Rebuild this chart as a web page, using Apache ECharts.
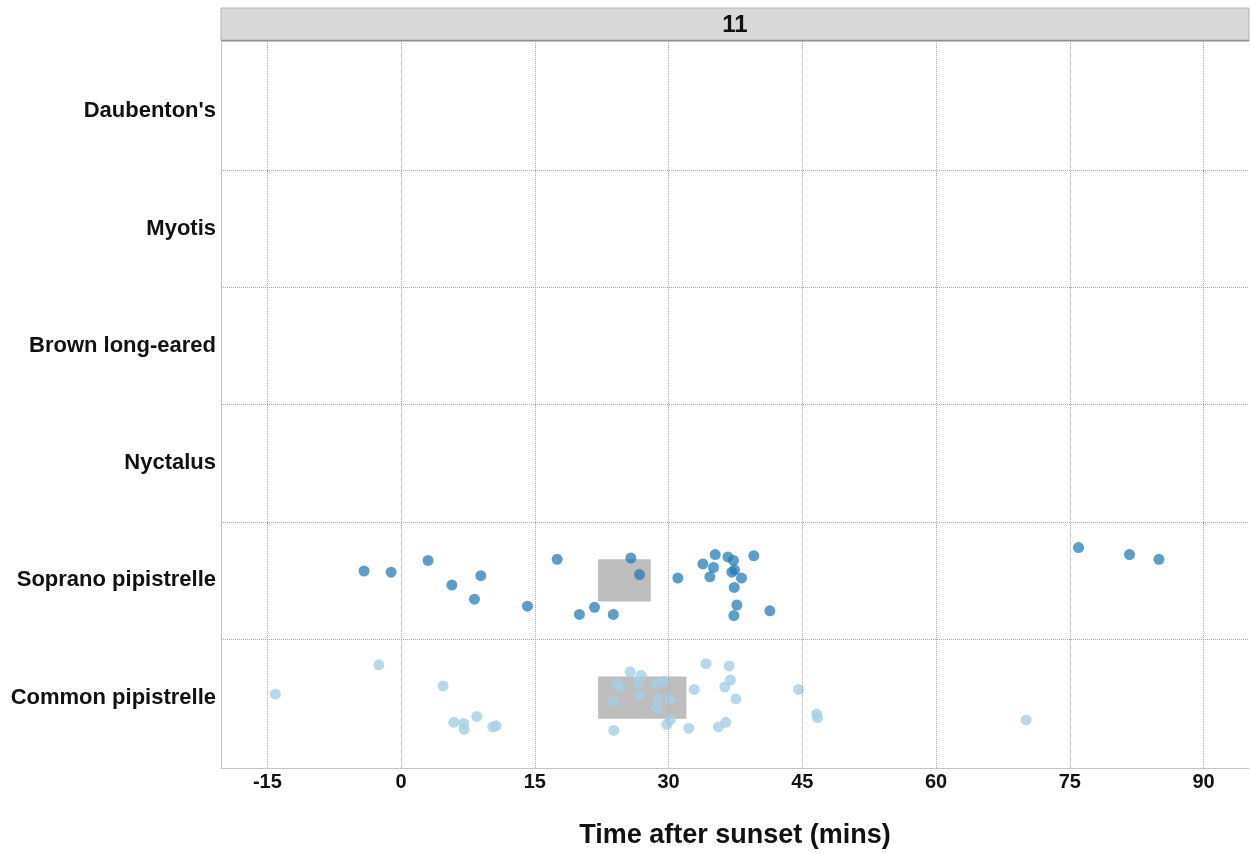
<!DOCTYPE html>
<html>
<head>
<meta charset="utf-8">
<script src="https://cdn.jsdelivr.net/npm/echarts@6/dist/echarts.min.js"></script>
<style>
  html, body { margin: 0; padding: 0; background: #fff; }
  #main { width: 1250px; height: 854px; }
</style>
</head>
<body>
<div id="main"></div>
<script>
// species, bottom to top (position 1..6 on the y axis)
var species = ["Common pipistrelle", "Soprano pipistrelle", "Nyctalus", "Brown long-eared", "Myotis", "Daubenton's"];
var xTicks = [-15, 0, 15, 30, 45, 60, 75, 90];
var yBreaks = [1.5, 2.5, 3.5, 4.5, 5.5];
var panelLabel = "11";

// jittered observations: time after sunset and jittered row position
var sopranoTimes = [-4.15, -1.12, 3.03, 5.69, 8.94, 8.23, 14.17, 17.5, 20.0, 21.7, 23.8, 25.77, 26.74, 31.04, 33.85, 35.23, 35.04, 34.63, 36.65, 37.28, 37.40, 37.1, 38.18, 37.36, 39.56, 37.66, 37.32, 41.36, 75.98, 81.7, 85.0];
var sopranoRows = [2.08, 2.07, 2.17, 1.96, 2.04, 1.84, 1.78, 2.18, 1.71, 1.77, 1.71, 2.19, 2.05, 2.02, 2.14, 2.22, 2.11, 2.03, 2.20, 2.17, 2.09, 2.07, 2.02, 1.94, 2.21, 1.79, 1.70, 1.74, 2.28, 2.22, 2.18];
var commonTimes = [-14.1, -2.5, 4.71, 5.91, 7.03, 7.07, 8.49, 10.28, 10.66, 23.86, 25.69, 26.92, 24.2, 24.57, 26.6, 28.6, 29.5, 23.82, 26.74, 28.8, 30.18, 28.68, 32.87, 34.2, 36.8, 36.94, 36.3, 37.55, 30.18, 29.8, 32.27, 35.6, 36.42, 44.57, 46.6, 46.7, 70.1];
var commonRows = [1.03, 1.28, 1.10, 0.79, 0.78, 0.73, 0.84, 0.75, 0.76, 0.72, 1.22, 1.19, 1.12, 1.09, 1.13, 1.12, 1.14, 0.97, 1.02, 0.99, 0.99, 0.91, 1.07, 1.29, 1.27, 1.15, 1.09, 0.99, 0.81, 0.77, 0.74, 0.75, 0.79, 1.07, 0.86, 0.83, 0.81];

// interquartile boxes per species row
var boxRows = [2, 1];
var boxLow = [22.1, 22.1];
var boxHigh = [28.0, 32.0];

var font = "Liberation Sans, Arial, Helvetica, sans-serif";

function pairs(xs, ys) {
    var out = [];
    for (var i = 0; i < xs.length; i++) out.push([xs[i], ys[i]]);
    return out;
}

var boxData = [];
for (var i = 0; i < boxRows.length; i++) {
    boxData.push([boxLow[i], boxHigh[i], boxRows[i]]);
}

var gridLines = [];
xTicks.forEach(function (t) { gridLines.push({ xAxis: t }); });
yBreaks.forEach(function (b) { gridLines.push({ yAxis: b }); });

var chart = echarts.init(document.getElementById('main'));

var option = {
    backgroundColor: '#ffffff',
    animation: false,
    grid: { left: 221, right: 1, top: 41, bottom: 85, containLabel: false },
    xAxis: {
        type: 'value',
        min: -20.2,
        max: 95.1,
        name: 'Time after sunset (mins)',
        nameLocation: 'middle',
        nameGap: 54,
        nameTextStyle: { fontFamily: font, fontWeight: 'bold', fontSize: 27, color: '#111' },
        axisLine: { show: true, lineStyle: { color: '#c4c4c4', width: 1 } },
        axisTick: { show: false, customValues: xTicks },
        axisLabel: {
            customValues: xTicks,
            fontFamily: font, fontWeight: 'bold', fontSize: 20, color: '#111', margin: 4
        },
        splitLine: { show: false }
    },
    yAxis: {
        type: 'value',
        min: 0.4,
        max: 6.6,
        axisLine: { show: true, onZero: false, lineStyle: { color: '#c4c4c4', width: 1 } },
        axisTick: { show: false, customValues: [1, 2, 3, 4, 5, 6] },
        axisLabel: {
            customValues: [1, 2, 3, 4, 5, 6],
            formatter: function (v) { return species[Math.round(v) - 1]; },
            fontFamily: font, fontWeight: 'bold', fontSize: 22, color: '#111', margin: 5
        },
        splitLine: { show: false }
    },
    graphic: [
        {
            type: 'rect',
            shape: { x: 221, y: 8, width: 1028, height: 33 },
            style: { fill: '#d9d9d9', stroke: '#b3b3b3', lineWidth: 1 }
        },
        {
            type: 'line',
            shape: { x1: 221, y1: 40.5, x2: 1249, y2: 40.5 },
            style: { stroke: '#8f8f8f', lineWidth: 1.5 }
        },
        {
            type: 'text',
            x: 735, y: 25,
            style: {
                text: panelLabel, fill: '#111', align: 'center', verticalAlign: 'middle',
                font: 'bold 24px ' + font
            }
        }
    ],
    series: [
        {
            // dotted panel grid
            type: 'scatter',
            data: [],
            silent: true,
            z: 1,
            markLine: {
                silent: true,
                symbol: 'none',
                label: { show: false },
                lineStyle: { type: 'dotted', color: '#a8a8a8', width: 1 },
                data: gridLines
            }
        },
        {
            type: 'custom',
            z: 2,
            silent: true,
            data: boxData,
            renderItem: function (params, api) {
                var p1 = api.coord([api.value(0), api.value(2) + 0.18]);
                var p2 = api.coord([api.value(1), api.value(2) - 0.18]);
                return {
                    type: 'rect',
                    shape: { x: p1[0], y: p1[1], width: p2[0] - p1[0], height: p2[1] - p1[1] },
                    style: { fill: '#bdbdbd' }
                };
            }
        },
        {
            name: 'Soprano pipistrelle',
            type: 'scatter',
            z: 3,
            symbolSize: 11,
            itemStyle: { color: '#1f78b4', opacity: 0.72 },
            data: pairs(sopranoTimes, sopranoRows)
        },
        {
            name: 'Common pipistrelle',
            type: 'scatter',
            z: 3,
            symbolSize: 11,
            itemStyle: { color: '#a6cee3', opacity: 0.8 },
            data: pairs(commonTimes, commonRows)
        }
    ]
};

chart.setOption(option);
</script>
</body>
</html>
